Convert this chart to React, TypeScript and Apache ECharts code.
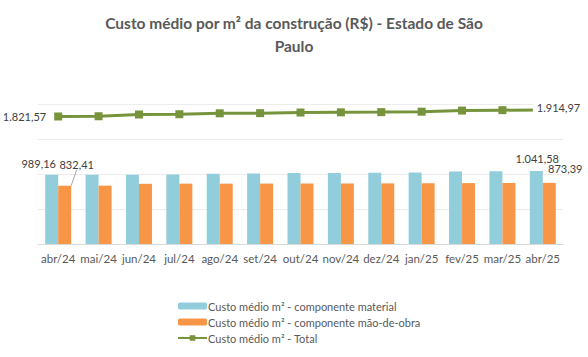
import React, { useEffect, useRef } from "react";
import * as echarts from "echarts";

const categories = ["abr/24", "mai/24", "jun/24", "jul/24", "ago/24", "set/24", "out/24", "nov/24", "dez/24", "jan/25", "fev/25", "mar/25", "abr/25"];
const material = [989.16, 991, 990, 992, 1005, 1006, 1014, 1016, 1018, 1022, 1036, 1040, 1041.58];
const labor = [832.41, 834, 860, 862, 862, 863, 864, 865, 866, 868, 870, 872, 873.39];
const total = [1821.57, 1825, 1850, 1854, 1867, 1869, 1878, 1881, 1884, 1890, 1906, 1912, 1914.97];
const seriesNames = ["Custo médio m² - componente material", "Custo médio m² - componente mão-de-obra", "Custo médio m² - Total"];
const titleText = "Custo médio por m² da construção (R$) - Estado de São\nPaulo";

const fmt = (v: number) => {
  const [i, d] = v.toFixed(2).split(".");
  return i.replace(/\B(?=(\d{3})+(?!\d))/g, ".") + "," + d;
};

const FONT = "Lato, 'Open Sans', 'DejaVu Sans', sans-serif";
const TXT = "#404040";

export default function App() {
  const ref = useRef<HTMLDivElement>(null);
  useEffect(() => {
    document.body.style.margin = "0";
    const chart = echarts.init(ref.current!, null, { renderer: "svg" });
    const last = categories.length - 1;
    const lbl = (extra: any) => ({ show: true, color: TXT, fontSize: 11, fontFamily: FONT, formatter: (p: any) => fmt(p.value), ...extra });
    chart.setOption({
      animation: false,
      backgroundColor: "#ffffff",
      textStyle: { fontFamily: FONT },
      title: {
        text: titleText,
        left: "center",
        top: 6,
        textStyle: { fontSize: 15.5, fontWeight: "bold", color: "#595959", fontFamily: FONT, lineHeight: 23 },
      },
      legend: {
        orient: "vertical",
        left: 177,
        top: 299,
        padding: 0,
        itemWidth: 29,
        itemHeight: 7,
        itemGap: 2,
        textStyle: { fontSize: 11, lineHeight: 14, color: "#595959", fontFamily: FONT, padding: [0, 0, 0, -4] },
        data: seriesNames,
      },
      grid: { left: 38, right: 25, top: 104, bottom: 113 },
      xAxis: {
        type: "category",
        data: categories,
        axisLine: { lineStyle: { color: "#d9d9d9" } },
        axisTick: { show: false },
        axisLabel: { color: "#595959", fontSize: 11.5, fontFamily: FONT, margin: 8, interval: 0 },
      },
      yAxis: {
        type: "value",
        min: 0,
        max: 2000,
        interval: 500,
        axisLabel: { show: false },
        axisLine: { show: false },
        axisTick: { show: false },
        splitLine: { lineStyle: { color: "#ececec" } },
      },
      series: [
        {
          name: seriesNames[0],
          type: "bar",
          barWidth: 13,
          barGap: "0%",
          itemStyle: { color: "#92CDDC" },
          data: material.map((v, i) =>
            i === 0
              ? { value: v, label: lbl({ position: "top", offset: [-13, -1] }) }
              : i === last
              ? { value: v, label: lbl({ position: "top", offset: [1, -2] }) }
              : v
          ),
        },
        {
          name: seriesNames[1],
          type: "bar",
          barWidth: 13,
          barGap: "0%",
          itemStyle: { color: "#F79646" },
          labelLine: { show: true, lineStyle: { color: "#a6a6a6", width: 1 } },
          labelLayout: (p: any) =>
            p.dataIndex === 0 ? { dx: 12, dy: -11 } : p.dataIndex === last ? { dx: 16, dy: -4 } : {},
          data: labor.map((v, i) =>
            i === 0
              ? { value: v, label: lbl({ position: "top" }) }
              : i === last
              ? { value: v, label: lbl({ position: "top" }), labelLine: { show: false } }
              : v
          ),
        },
        {
          name: seriesNames[2],
          type: "line",
          symbol: "rect",
          symbolSize: 8,
          lineStyle: { color: "#77933C", width: 3 },
          itemStyle: { color: "#77933C" },
          z: 3,
          data: total.map((v, i) =>
            i === 0
              ? { value: v, label: lbl({ position: "left", distance: 8 }) }
              : i === last
              ? {
                  value: v,
                  label: lbl({ position: "right", distance: 0, offset: [-14, -2], backgroundColor: "#ffffff", padding: [2, 4] }),
                }
              : v
          ),
        },
      ],
    });
    return () => chart.dispose();
  }, []);
  return <div ref={ref} style={{ width: 588, height: 357 }} />;
}
